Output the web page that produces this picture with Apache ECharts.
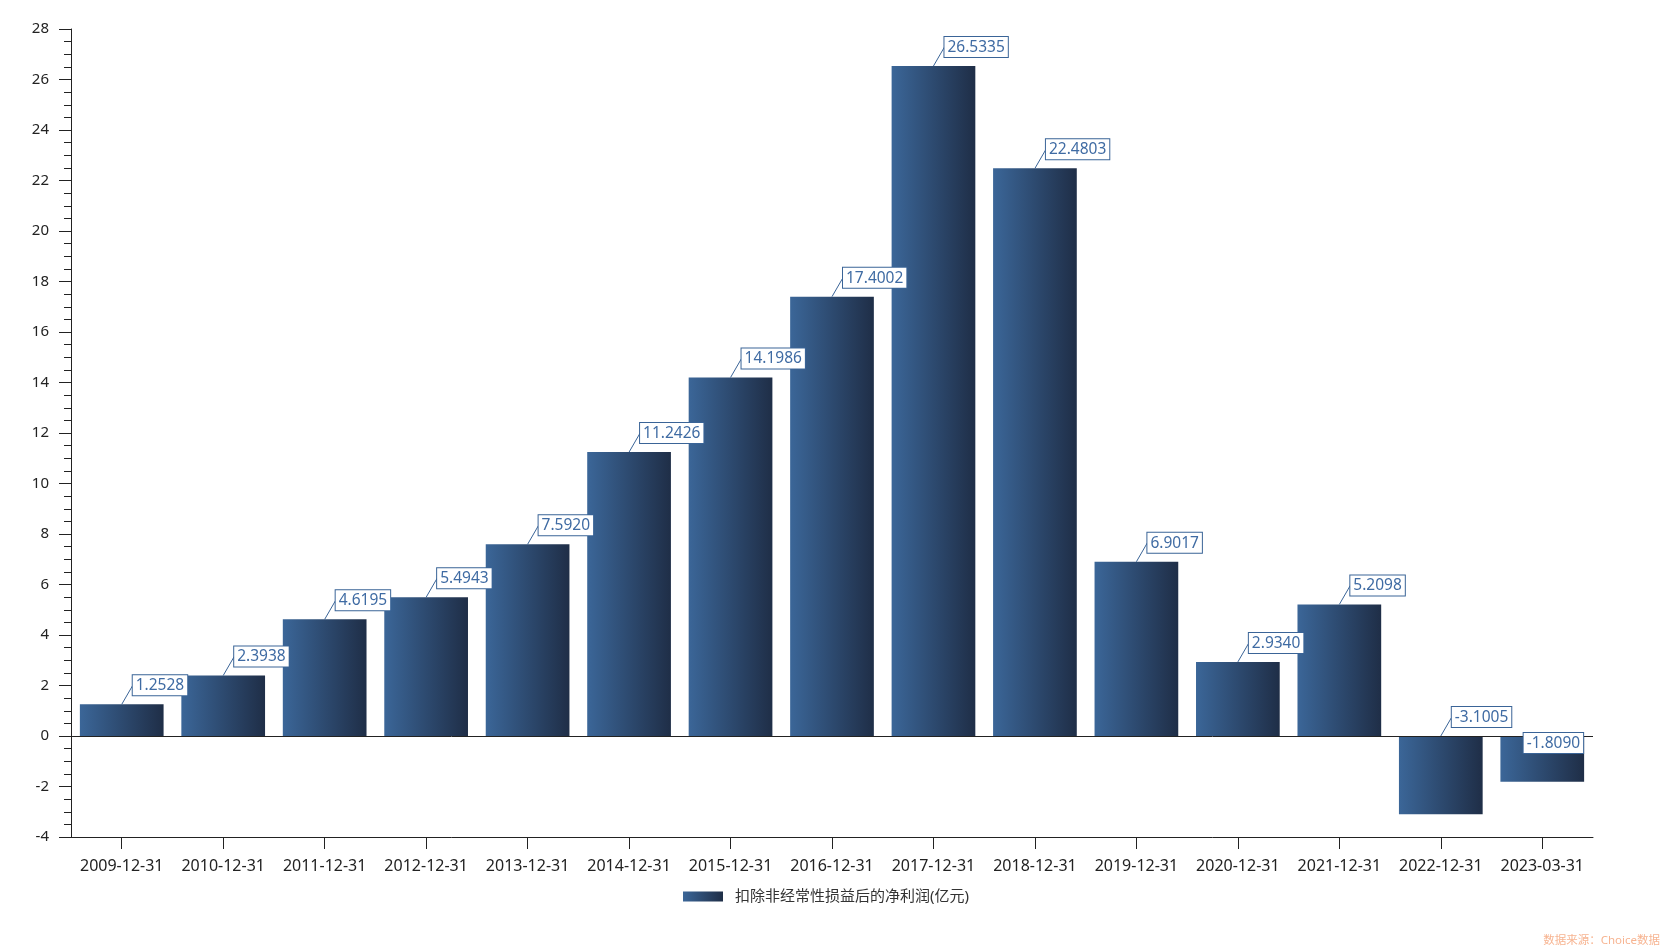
<!DOCTYPE html>
<html>
<head>
<meta charset="utf-8">
<style>
  html, body { margin: 0; padding: 0; background: #ffffff; }
  #chart { width: 1662px; height: 948px; }
</style>
<script src="https://cdn.jsdelivr.net/npm/echarts@6/dist/echarts.min.js"></script>
</head>
<body>
<div id="chart"></div>
<script>
const categories = ['2009-12-31', '2010-12-31', '2011-12-31', '2012-12-31', '2013-12-31', '2014-12-31', '2015-12-31', '2016-12-31', '2017-12-31', '2018-12-31', '2019-12-31', '2020-12-31', '2021-12-31', '2022-12-31', '2023-03-31'];
const values = [1.2528, 2.3938, 4.6195, 5.4943, 7.5920, 11.2426, 14.1986, 17.4002, 26.5335, 22.4803, 6.9017, 2.9340, 5.2098, -3.1005, -1.8090];
const seriesName = '扣除非经常性损益后的净利润(亿元)';
const yMin = -4;
const yMax = 28;
const yInterval = 2;
const sourceText = '数据来源：Choice数据';

const FONT = '"Noto Sans", "Noto Sans CJK SC", sans-serif';
const lastIndex = values.length - 1;
const BAR_RATIO = 0.825;

const chart = echarts.init(document.getElementById('chart'), null, { renderer: 'canvas' });

const barGradient = new echarts.graphic.LinearGradient(0, 0, 1, 0, [
  { offset: 0, color: '#3b6698' },
  { offset: 1, color: '#1f2e47' }
]);

function renderLabel(params, api) {
  const idx = api.value(0);
  const v = api.value(1);
  const pt = api.coord([idx, Math.max(0, v)]);
  const bw = api.size([1, 0])[0] * BAR_RATIO;
  const text = Number(v).toFixed(4);
  const boxStyle = {
    text: text,
    fontSize: 15.5,
    fontFamily: FONT,
    fill: '#3f6ba3',
    backgroundColor: '#ffffff',
    borderColor: '#3a6497',
    borderWidth: 1,
    padding: [2, 3, 1, 3],
    lineHeight: 17
  };
  if (idx === lastIndex) {
    return {
      type: 'text',
      style: Object.assign({}, boxStyle, {
        x: pt[0] + bw / 2 - 1,
        y: pt[1] - 3,
        align: 'right',
        verticalAlign: 'top'
      })
    };
  }
  return {
    type: 'group',
    children: [
      {
        type: 'line',
        shape: { x1: pt[0], y1: pt[1], x2: pt[0] + 11, y2: pt[1] - 19 },
        style: { stroke: '#3a6497', lineWidth: 1 }
      },
      {
        type: 'text',
        style: Object.assign({}, boxStyle, {
          x: pt[0] + 11,
          y: pt[1] - 9,
          align: 'left',
          verticalAlign: 'bottom'
        })
      }
    ]
  };
}

const option = {
  backgroundColor: '#ffffff',
  animation: false,
  textStyle: { fontFamily: FONT },
  grid: { left: 71, right: 69, top: 29, bottom: 111, containLabel: false },
  legend: {
    show: true,
    left: 683,
    top: 889,
    padding: 0,
    icon: 'rect',
    itemWidth: 40,
    itemHeight: 10,
    itemGap: 10,
    textStyle: { fontSize: 15, color: '#333333', fontFamily: FONT, padding: [0, 0, 0, 7] },
    data: [seriesName]
  },
  xAxis: {
    type: 'category',
    data: categories,
    position: 'bottom',
    axisLine: { show: true, onZero: false, lineStyle: { color: '#222222', width: 1 } },
    axisTick: { show: true, alignWithLabel: true, length: 12, lineStyle: { color: '#222222' } },
    axisLabel: { fontSize: 16, color: '#222222', margin: 21, fontFamily: FONT, interval: 0 },
    splitLine: { show: false }
  },
  yAxis: {
    type: 'value',
    min: yMin,
    max: yMax,
    interval: yInterval,
    axisLine: { show: true, lineStyle: { color: '#222222', width: 1 } },
    axisTick: { show: true, length: 12, lineStyle: { color: '#222222' } },
    minorTick: { show: true, splitNumber: 4, length: 7, lineStyle: { color: '#222222' } },
    axisLabel: { fontSize: 15, color: '#222222', margin: 22, fontFamily: FONT },
    splitLine: { show: false }
  },
  series: [
    {
      name: seriesName,
      type: 'bar',
      barWidth: (BAR_RATIO * 100) + '%',
      itemStyle: { color: barGradient },
      data: values,
      label: { show: false },
      markLine: {
        silent: true,
        symbol: ['none', 'none'],
        label: { show: false },
        lineStyle: { color: '#222222', width: 1, type: 'solid' },
        data: [{ yAxis: 0 }]
      }
    },
    {
      name: 'labels',
      type: 'custom',
      silent: true,
      z: 5,
      renderItem: renderLabel,
      encode: { x: 0, y: 1 },
      data: values.map((v, i) => [i, v])
    }
  ],
  graphic: [{
    type: 'text',
    right: 2,
    bottom: 2,
    style: {
      text: sourceText,
      fontSize: 11.5,
      fontFamily: FONT,
      fill: '#f7b491'
    }
  }]
};

chart.setOption(option);
</script>
</body>
</html>
